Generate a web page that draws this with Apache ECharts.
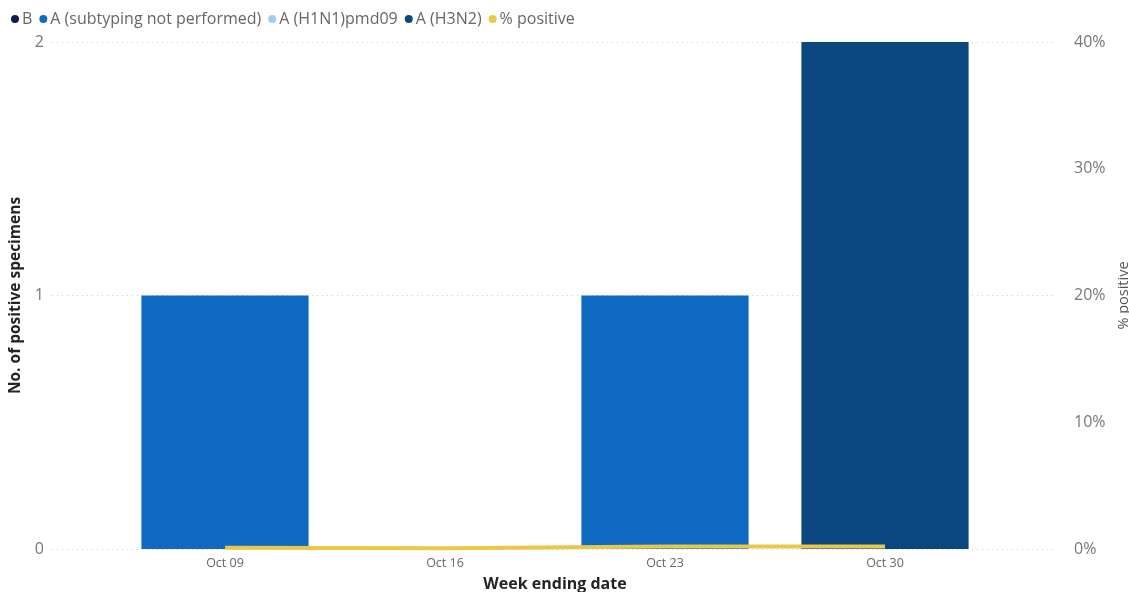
<!DOCTYPE html>
<html><head><meta charset="utf-8">
<script src="https://cdn.jsdelivr.net/npm/echarts@6/dist/echarts.min.js"></script>
<style>html,body{margin:0;padding:0;background:#fff}#c{width:1129px;height:592px}</style>
</head><body><div id="c"></div>
<script>
const categories = ['Oct 09', 'Oct 16', 'Oct 23', 'Oct 30'];
const seriesB = [0, 0, 0, 0];
const seriesANotSubtyped = [1, 0, 1, 0];
const seriesH1N1 = [0, 0, 0, 0];
const seriesH3N2 = [0, 0, 0, 2];
const pctPositive = [0.1, 0.05, 0.2, 0.2];
const leftTicks = [0, 1, 2];
const rightTicks = [0, 10, 20, 30, 40];

const FONT = '"Open Sans", "Noto Sans", sans-serif';
const chart = echarts.init(document.getElementById('c'));
const barW = '76%';
chart.setOption({
  animation: false,
  textStyle: { fontFamily: FONT },
  legend: {
    left: 6, top: 6, icon: 'circle', itemWidth: 8, itemHeight: 8, itemGap: 7,
    textStyle: { color: '#666', fontSize: 16, fontFamily: FONT, padding: [0, 0, 0, -2] },
    data: ['B', 'A (subtyping not performed)', 'A (H1N1)pmd09', 'A (H3N2)', '% positive']
  },
  grid: [
    { left: 52, right: 74, top: 42, bottom: 43, outerBoundsMode: 'none', containLabel: false },
    { left: 115, right: 134, top: 42, bottom: 43, outerBoundsMode: 'none', containLabel: false }
  ],
  xAxis: [
    { gridIndex: 0, type: 'value', show: false, min: 0, max: 1 },
    { gridIndex: 1, type: 'category', data: categories,
      axisLine: { show: false }, axisTick: { show: false },
      axisLabel: { color: '#666', fontSize: 12.5, margin: 8 },
      name: 'Week ending date', nameLocation: 'middle', nameGap: 27,
      nameTextStyle: { color: '#252423', fontSize: 16, fontWeight: 'bold' } }
  ],
  yAxis: [
    { gridIndex: 0, type: 'value', min: leftTicks[0], max: leftTicks[leftTicks.length - 1], interval: 1,
      axisLabel: { color: '#777', fontSize: 16, margin: 8 },
      splitLine: { lineStyle: { type: [1, 4], color: '#ccc' } },
      axisLine: { show: false }, axisTick: { show: false },
      name: 'No. of positive specimens', nameLocation: 'middle', nameGap: 21,
      nameTextStyle: { color: '#252423', fontSize: 15.5, fontWeight: 'bold' } },
    { gridIndex: 0, type: 'value', position: 'right', min: rightTicks[0], max: rightTicks[rightTicks.length - 1], interval: 10,
      axisLabel: { color: '#777', fontSize: 16, margin: 19, formatter: '{value}%' },
      splitLine: { show: false }, axisLine: { show: false }, axisTick: { show: false },
      name: '% positive', nameLocation: 'middle', nameGap: 60,
      nameTextStyle: { color: '#555', fontSize: 14.5 } },
    { gridIndex: 1, type: 'value', show: false, min: 0, max: 2, interval: 1, splitLine: { show: false } },
    { gridIndex: 1, type: 'value', show: false, min: 0, max: 40, interval: 10, splitLine: { show: false } }
  ],
  series: [
    { name: 'B', type: 'bar', stack: 's', xAxisIndex: 1, yAxisIndex: 2, barWidth: barW, data: seriesB, itemStyle: { color: '#12195a' } },
    { name: 'A (subtyping not performed)', type: 'bar', stack: 's', xAxisIndex: 1, yAxisIndex: 2, barWidth: barW, data: seriesANotSubtyped, itemStyle: { color: '#0f6bc1' } },
    { name: 'A (H1N1)pmd09', type: 'bar', stack: 's', xAxisIndex: 1, yAxisIndex: 2, barWidth: barW, data: seriesH1N1, itemStyle: { color: '#a0cdf5' } },
    { name: 'A (H3N2)', type: 'bar', stack: 's', xAxisIndex: 1, yAxisIndex: 2, barWidth: barW, data: seriesH3N2, itemStyle: { color: '#0a477f' } },
    { name: '% positive', type: 'line', xAxisIndex: 1, yAxisIndex: 3, data: pctPositive, showSymbol: false, symbol: 'circle',
      lineStyle: { color: '#e8c84a', width: 4 }, itemStyle: { color: '#e8c84a' }, z: 5 }
  ]
});
</script></body></html>
